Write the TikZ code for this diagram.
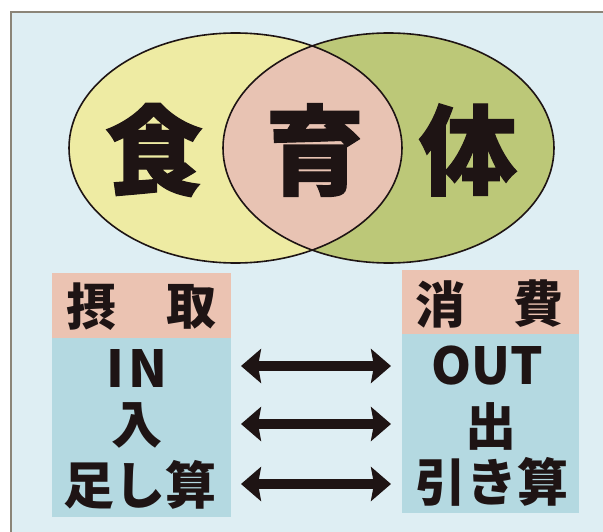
\documentclass[tikz,border=0pt]{standalone}
\usepackage{fontspec}
\newfontfamily\cjk{Noto Sans CJK JP}
\newfontfamily\cjkheavy{Noto Sans CJK JP}[BoldFeatures={FakeBold=1.2}]
\usetikzlibrary{arrows.meta}
\definecolor{bgblue}{HTML}{DEEEF3}
\definecolor{framegray}{HTML}{8B8578}
\definecolor{yel}{HTML}{EEEBA3}
\definecolor{oliv}{HTML}{BCC878}
\definecolor{lens}{HTML}{E8C3B3}
\definecolor{headpink}{HTML}{EBC3B2}
\definecolor{bodyblue}{HTML}{B4D9E1}
\definecolor{ink}{HTML}{1E1414}
\tikzset{
  bigchar/.style={font=\cjkheavy\bfseries\fontsize{98}{98}\selectfont, text=ink, inner sep=0pt},
  headchar/.style={font=\cjk\bfseries\fontsize{50}{50}\selectfont, text=ink, inner sep=0pt},
  bodytext/.style={font=\cjk\bfseries\fontsize{51}{51}\selectfont, text=ink, inner sep=0pt},
  dblarrow/.style={line width=10pt, draw=ink, {Stealth[length=20pt,width=34pt,inset=3pt]}-{Stealth[length=20pt,width=34pt,inset=3pt]}},
  outline/.style={draw=ink, line width=1.6pt}
}
\begin{document}
\begin{tikzpicture}[x=1pt,y=-1pt]
\useasboundingbox (0,0) rectangle (603,532);
\fill[white] (0,0) rectangle (603,532);
\fill[bgblue] (11,13) rectangle (603,532);
\draw[framegray, line width=2pt] (10.5,540) -- (10.5,12.5) -- (610,12.5);
% Venn
\fill[yel] (235.5,148) ellipse [x radius=166.5, y radius=115];
\fill[oliv] (388.5,148) ellipse [x radius=165.5, y radius=115];
\begin{scope}
  \clip (235.5,148) ellipse [x radius=166.5, y radius=115];
  \fill[lens] (388.5,148) ellipse [x radius=165.5, y radius=115];
\end{scope}
\draw[outline] (235.5,148) ellipse [x radius=166.5, y radius=115];
\draw[outline] (388.5,148) ellipse [x radius=165.5, y radius=115];
\node[bigchar] (shoku) at (154,150) {食};
\node[bigchar] (iku) at (315,150) {育};
\node[bigchar] (tai) at (468,150) {体};
% boxes
\fill[headpink] (52,273) rectangle (231,338);
\fill[bodyblue] (52,338) rectangle (231,517);
\fill[headpink] (402,270) rectangle (579,334);
\fill[bodyblue] (402,334) rectangle (579,513);
\node[headchar] (setsu) at (91,307) {摂};
\node[headchar] (shu) at (191,307) {取};
\node[headchar] (sho) at (440,304) {消};
\node[headchar] (hi) at (538,304) {費};
\node[bodytext] (in) at (137,369) {I\hspace{4pt}N};
\node[bodytext] (nyu) at (137,425) {入};
\node[bodytext] (tashi) at (140,485) {足し算};
\node[bodytext] (out) at (487,366) {OUT};
\node[bodytext] (shutsu) at (491,426) {出};
\node[bodytext] (hiki) at (492,482) {引き算};
% arrows
\coordinate (a1l) at (241,366); \coordinate (a1r) at (391,366);
\coordinate (a2l) at (241,424); \coordinate (a2r) at (391,424);
\coordinate (a3l) at (241,484); \coordinate (a3r) at (391,484);
\draw[dblarrow] (a1l) -- (a1r);
\draw[dblarrow] (a2l) -- (a2r);
\draw[dblarrow] (a3l) -- (a3r);
\end{tikzpicture}
\end{document}
